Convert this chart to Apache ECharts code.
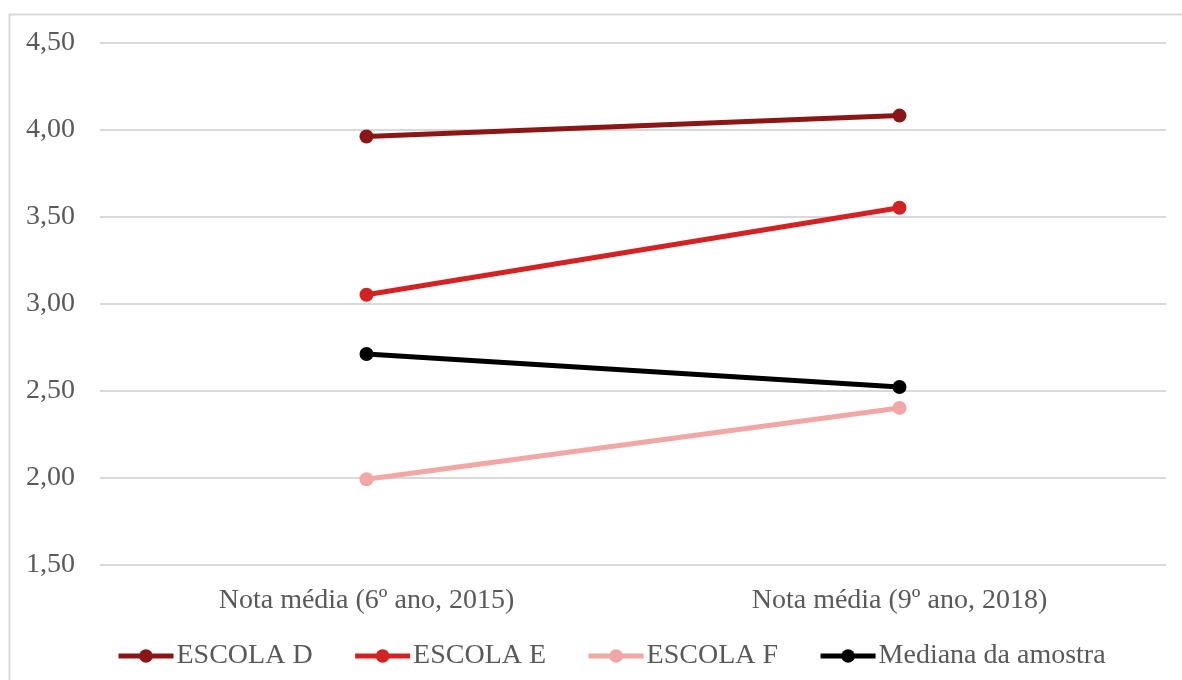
<!DOCTYPE html>
<html>
<head>
<meta charset="utf-8">
<script src="https://cdn.jsdelivr.net/npm/echarts@6/dist/echarts.min.js"></script>
<style>
  html, body { margin: 0; padding: 0; background: #ffffff; }
  #chart { width: 1182px; height: 680px; }
</style>
</head>
<body>
<div id="chart"></div>
<script>
// Categories on the x axis
const categories = ['Nota média (6º ano, 2015)', 'Nota média (9º ano, 2018)'];

// Average score per school and sample median
const escolaD = [3.96, 4.08];
const escolaE = [3.05, 3.55];
const escolaF = [1.99, 2.40];
const mediana = [2.71, 2.52];

const seriesNames = ['ESCOLA D', 'ESCOLA E', 'ESCOLA F', 'Mediana da amostra'];
const seriesColors = ['#8c1616', '#d42121', '#f2a7a7', '#000000'];
const seriesValues = [escolaD, escolaE, escolaF, mediana];

const fontFamily = "'Liberation Serif', 'Times New Roman', serif";
const textColor = '#595959';

const chart = echarts.init(document.getElementById('chart'));

chart.setOption({
  animation: false,
  backgroundColor: '#ffffff',
  graphic: [{
    type: 'rect',
    left: 7,
    top: 12,
    shape: { width: 1200, height: 700 },
    style: { fill: 'none', stroke: '#d9d9d9', lineWidth: 2 },
    silent: true
  }],
  grid: { left: 100, right: 16, top: 42.5, bottom: 115.5, containLabel: false },
  xAxis: {
    type: 'category',
    data: categories,
    boundaryGap: true,
    axisLine: { show: false },
    axisTick: { show: false },
    axisLabel: { color: textColor, fontFamily: fontFamily, fontSize: 28, margin: 22 }
  },
  yAxis: {
    type: 'value',
    min: 1.5,
    max: 4.5,
    interval: 0.5,
    axisLine: { show: false },
    axisTick: { show: false },
    splitLine: { lineStyle: { color: '#d9d9d9', width: 2 } },
    axisLabel: {
      color: textColor, fontFamily: fontFamily, fontSize: 28, margin: 25,
      formatter: v => v.toFixed(2).replace('.', ',')
    }
  },
  legend: {
    bottom: 5,
    left: 111,
    itemWidth: 55,
    itemHeight: 17,
    itemGap: 40,
    data: seriesNames,
    lineStyle: { width: 5 },
    textStyle: { color: textColor, fontFamily: fontFamily, fontSize: 28, padding: [0, 0, 0, -2] }
  },
  series: seriesNames.map((name, i) => ({
    name: name,
    type: 'line',
    data: seriesValues[i],
    symbol: 'circle',
    symbolSize: 14,
    color: seriesColors[i],
    lineStyle: { width: 5, color: seriesColors[i] },
    itemStyle: { color: seriesColors[i] }
  }))
});
</script>
</body>
</html>
